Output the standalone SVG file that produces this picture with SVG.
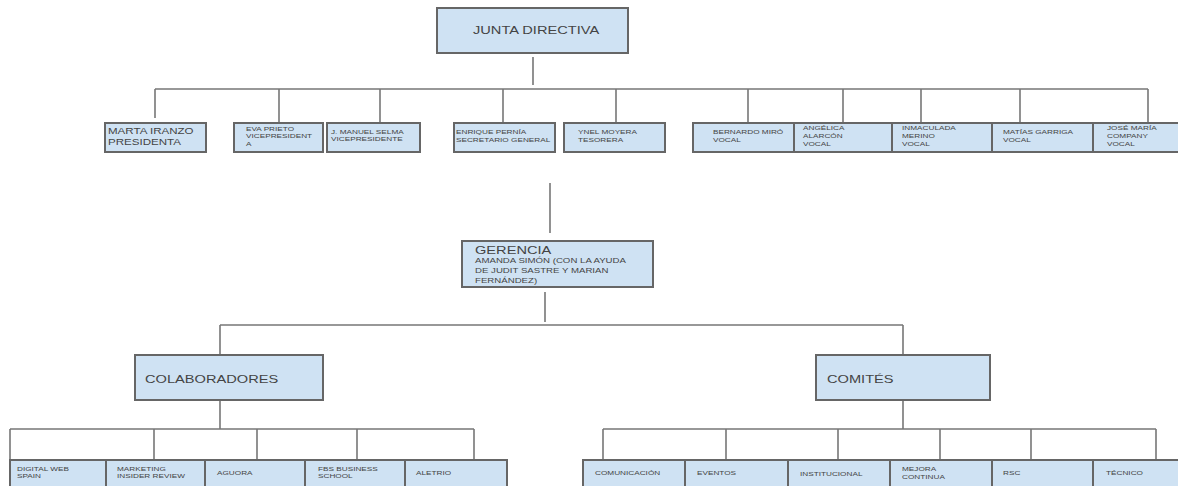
<svg xmlns="http://www.w3.org/2000/svg" width="1178" height="486" viewBox="0 0 1178 486">
<style>
.box{fill:#cfe2f3;stroke:#666;stroke-width:2}
.ln{fill:none;stroke:#777;stroke-width:1.6}
text{font-family:"Liberation Sans",Arial,sans-serif;fill:#444;transform-box:fill-box;transform-origin:left center}
.s{font-size:6px;transform:scaleX(1.37)}
.g{font-size:7px;transform:scaleX(1.38)}
.m{font-size:8.7px;transform:scaleX(1.33)}
.l{font-size:11px;transform:scaleX(1.33)}
</style>
<rect width="1178" height="486" fill="#fff"/>
<g id="connectors">
<path class="ln" d="M533 57V85M155 89H1148M155 89V118M279 89V122M380 89V122M503 89V122M616 89V122M748 89V122M843 89V122M921 89V122M1020 89V122M1148 89V122"/>
<path class="ln" d="M550 183V233M545 292V322M220 325H903M220 325V354M903 325V354"/>
<path class="ln" d="M220 400V429M10 429H474M10 429V459M154 429V459M257 429V459M357 429V459M474 429V459"/>
<path class="ln" d="M903 400V429M603 429H1156M603 429V459M726 429V459M838 429V459M940 429V459M1031 429V459M1156 429V459"/>
</g>
<g id="junta"><rect class="box" x="437" y="8" width="191" height="45"/><text class="l" x="473" y="34">JUNTA DIRECTIVA</text></g>
<g id="marta"><rect class="box" x="105" y="123" width="101" height="29"/><text class="m" x="108" y="134">MARTA IRANZO</text><text class="m" x="108" y="145">PRESIDENTA</text></g>
<g id="eva"><rect class="box" x="234" y="123" width="89" height="29"/><text class="s" x="246" y="131">EVA PRIETO</text><text class="s" x="246" y="138">VICEPRESIDENT</text><text class="s" x="246" y="146">A</text></g>
<g id="jmanuel"><rect class="box" x="327" y="123" width="93" height="29"/><text class="s" x="331" y="134">J. MANUEL SELMA</text><text class="s" x="331" y="141">VICEPRESIDENTE</text></g>
<g id="enrique"><rect class="box" x="454" y="123" width="101" height="29"/><text class="s" x="456" y="134">ENRIQUE PERNÍA</text><text class="s" x="456" y="142">SECRETARIO GENERAL</text></g>
<g id="ynel"><rect class="box" x="564" y="123" width="101" height="29"/><text class="s" x="578" y="134">YNEL MOYERA</text><text class="s" x="578" y="142">TESORERA</text></g>
<g id="bernardo"><rect class="box" x="693" y="123" width="101" height="29"/><text class="s" x="713" y="134">BERNARDO MIRÓ</text><text class="s" x="713" y="142">VOCAL</text></g>
<g id="angelica"><rect class="box" x="794" y="123" width="98" height="29"/><text class="s" x="803" y="130">ANGÉLICA</text><text class="s" x="803" y="138">ALARCÓN</text><text class="s" x="803" y="146">VOCAL</text></g>
<g id="inmaculada"><rect class="box" x="892" y="123" width="100" height="29"/><text class="s" x="902" y="130">INMACULADA</text><text class="s" x="902" y="138">MERINO</text><text class="s" x="902" y="146">VOCAL</text></g>
<g id="matias"><rect class="box" x="992" y="123" width="101" height="29"/><text class="s" x="1003" y="134">MATÍAS GARRIGA</text><text class="s" x="1003" y="142">VOCAL</text></g>
<g id="jose"><rect class="box" x="1093" y="123" width="90" height="29"/><text class="s" x="1107" y="130">JOSÉ MARÍA</text><text class="s" x="1107" y="138">COMPANY</text><text class="s" x="1107" y="146">VOCAL</text></g>
<g id="gerencia"><rect class="box" x="462" y="241" width="191" height="46"/><text class="l" x="475" y="254">GERENCIA</text><text class="g" x="475" y="263">AMANDA SIMÓN (CON LA AYUDA</text><text class="g" x="475" y="273">DE JUDIT SASTRE Y MARIAN</text><text class="g" x="475" y="283">FERNÁNDEZ)</text></g>
<g id="colaboradores"><rect class="box" x="135" y="355" width="188" height="45"/><text class="l" x="145" y="383">COLABORADORES</text></g>
<g id="comites"><rect class="box" x="816" y="355" width="174" height="45"/><text class="l" x="827" y="383">COMITÉS</text></g>
<g id="digital"><rect class="box" x="10" y="460" width="96" height="30"/><text class="s" x="17" y="471">DIGITAL WEB</text><text class="s" x="17" y="478">SPAIN</text></g>
<g id="marketing"><rect class="box" x="106" y="460" width="99" height="30"/><text class="s" x="117" y="471">MARKETING</text><text class="s" x="117" y="478">INSIDER REVIEW</text></g>
<g id="aguora"><rect class="box" x="205" y="460" width="100" height="30"/><text class="s" x="217" y="475">AGUORA</text></g>
<g id="fbs"><rect class="box" x="305" y="460" width="100" height="30"/><text class="s" x="318" y="471">FBS BUSINESS</text><text class="s" x="318" y="478">SCHOOL</text></g>
<g id="aletrio"><rect class="box" x="405" y="460" width="102" height="30"/><text class="s" x="416" y="475">ALETRIO</text></g>
<g id="comunicacion"><rect class="box" x="583" y="460" width="102" height="30"/><text class="s" x="595" y="475">COMUNICACIÓN</text></g>
<g id="eventos"><rect class="box" x="685" y="460" width="103" height="30"/><text class="s" x="697" y="475">EVENTOS</text></g>
<g id="institucional"><rect class="box" x="788" y="460" width="102" height="30"/><text class="s" x="800" y="476">INSTITUCIONAL</text></g>
<g id="mejora"><rect class="box" x="890" y="460" width="102" height="30"/><text class="s" x="902" y="471">MEJORA</text><text class="s" x="902" y="479">CONTINUA</text></g>
<g id="rsc"><rect class="box" x="992" y="460" width="101" height="30"/><text class="s" x="1003" y="475">RSC</text></g>
<g id="tecnico"><rect class="box" x="1093" y="460" width="90" height="30"/><text class="s" x="1106" y="475">TÉCNICO</text></g>
</svg>
